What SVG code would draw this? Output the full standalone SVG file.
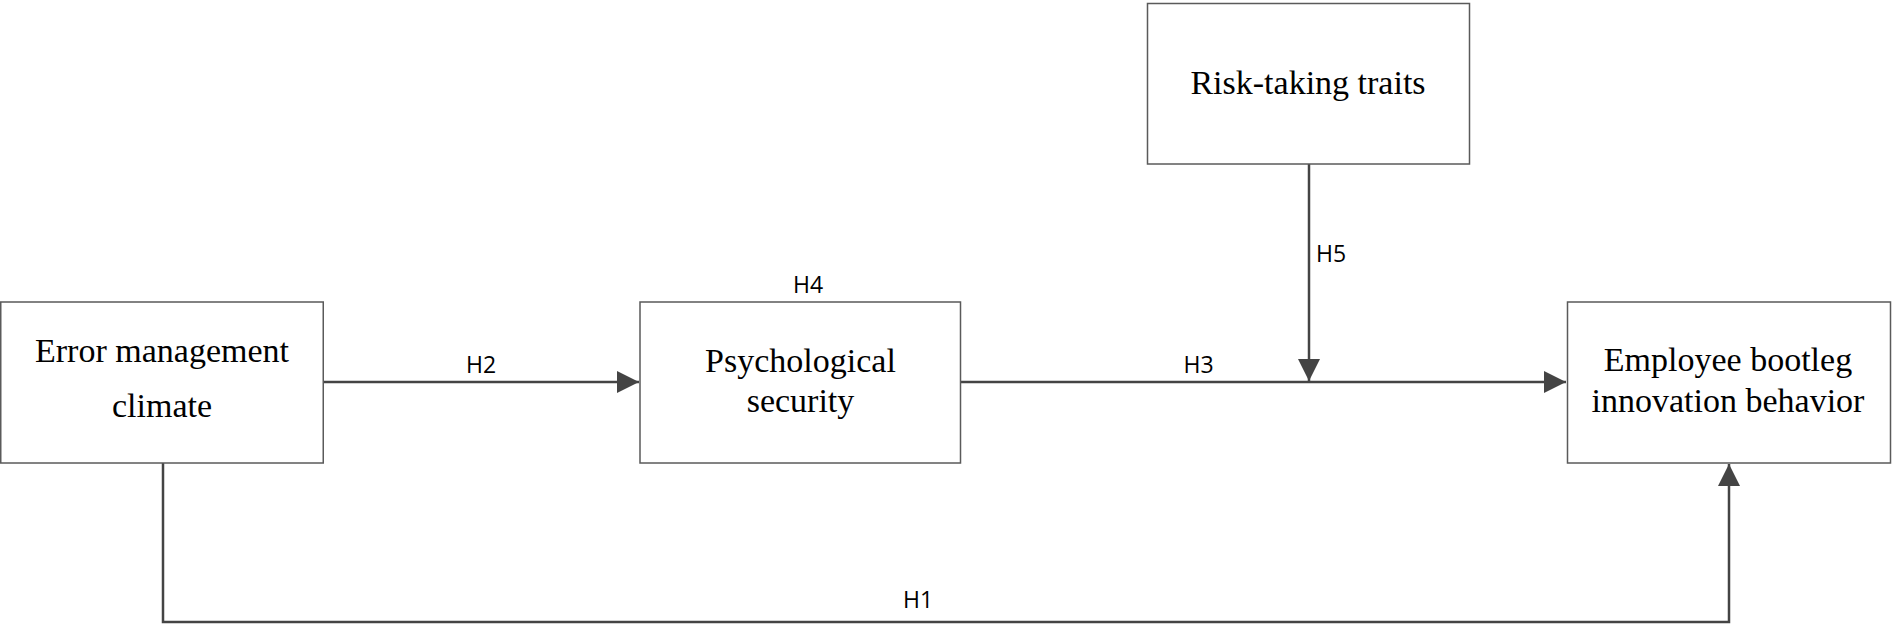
<svg xmlns="http://www.w3.org/2000/svg" width="1892" height="625" viewBox="0 0 1892 625">
<style>
.box{fill:#fff;stroke:#5a5a5a;stroke-width:1.5}
.nt{font-family:"Liberation Serif","Times New Roman",serif;font-size:34px;fill:#000;text-anchor:middle}
.lb{font-family:"Open Sans","DejaVu Sans",sans-serif;font-size:23px;fill:#000;text-anchor:middle}
.cn{fill:none;stroke:#444;stroke-width:2.5}
</style>
<defs>
<marker id="arr" markerUnits="userSpaceOnUse" markerWidth="22" markerHeight="22" viewBox="0 0 20 20" refX="20" refY="10" orient="auto">
<path d="M0,0 L20,10 L0,20 Z" fill="#444"/>
</marker>
</defs>
<rect width="1892" height="625" fill="#fff"/>
<g id="connectors">
<line class="cn" x1="324" y1="382" x2="639" y2="382" marker-end="url(#arr)"/>
<line class="cn" x1="961" y1="382" x2="1566" y2="382" marker-end="url(#arr)"/>
<line class="cn" x1="1309" y1="164" x2="1309" y2="381" marker-end="url(#arr)"/>
<path class="cn" d="M163,463 V622 H1729 V464" marker-end="url(#arr)"/>
<text class="lb" x="481" y="373">H2</text>
<text class="lb" x="808" y="293">H4</text>
<text class="lb" x="1198.5" y="373">H3</text>
<text class="lb" x="1331" y="262">H5</text>
<text class="lb" x="918" y="608">H1</text>
</g>
<g id="error-management-climate">
<rect class="box" x="0.75" y="302" width="322.5" height="161"/>
<text class="nt" x="162" y="362">Error management</text>
<text class="nt" x="162" y="417">climate</text>
</g>
<g id="psychological-security">
<rect class="box" x="640" y="302" width="320.5" height="161"/>
<text class="nt" x="800.5" y="371.5">Psychological</text>
<text class="nt" x="800.5" y="412">security</text>
</g>
<g id="employee-bootleg-innovation-behavior">
<rect class="box" x="1567.5" y="302" width="323" height="161"/>
<text class="nt" x="1728" y="370.5">Employee bootleg</text>
<text class="nt" x="1728" y="411.5">innovation behavior</text>
</g>
<g id="risk-taking-traits">
<rect class="box" x="1147.5" y="3.5" width="322" height="160.5"/>
<text class="nt" x="1308" y="94">Risk-taking traits</text>
</g>
</svg>
